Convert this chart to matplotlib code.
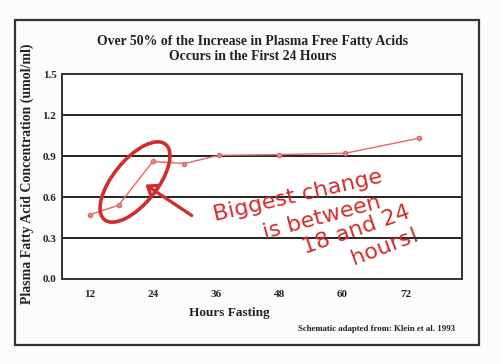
import matplotlib
matplotlib.use("Agg")
import matplotlib.pyplot as plt
from matplotlib.patches import Ellipse, Rectangle, FancyArrowPatch
from matplotlib.transforms import IdentityTransform

hours = [12, 17.5, 24, 30, 36.5, 48, 60.5, 74.5]
ffa = [0.47, 0.54, 0.86, 0.845, 0.905, 0.91, 0.92, 1.03]
xticks = [12, 24, 36, 48, 60, 72]
yticks = [0.0, 0.3, 0.6, 0.9, 1.2, 1.5]
ytick_labels = ["0.0", "0.3", "0.6", "0.9", "1.2", "1.5"]
title = "Over 50% of the Increase in Plasma Free Fatty Acids\nOccurs in the First 24 Hours"
xlabel = "Hours Fasting"
ylabel = "Plasma Fatty Acid Concentration (umol/ml)"
source = "Schematic adapted from: Klein et al. 1993"
note_lines = ["Biggest change", "is between", "18 and 24", "hours!"]

W, H = 500, 364
fig = plt.figure(figsize=(W / 100, H / 100), dpi=100)
fig.patch.set_facecolor("#fcfcfc")
serif = ["Liberation Serif", "DejaVu Serif"]

def px(x, y):
    return x, H - y

# outer frame
fig.patches.append(Rectangle((15 / W, 1 - 345 / H), (479 - 15) / W, (345 - 20) / H,
                             transform=fig.transFigure, fill=False, lw=1.6,
                             edgecolor="#333333"))

ax = fig.add_axes([62 / W, 1 - 279 / H, 400 / W, (279 - 74) / H])
ax.set_facecolor("white")
ax.set_xlim(6.75, 82.7)
ax.set_ylim(0, 1.5)
ax.set_xticks(xticks)
ax.set_xticklabels([str(v) for v in xticks], fontfamily=serif, fontweight="bold",
                   fontsize=8, color="#222222")
ax.set_yticks(yticks)
ax.set_yticklabels(ytick_labels, fontfamily=serif, fontweight="bold",
                   fontsize=8, color="#222222")
ax.tick_params(length=0, pad=8, axis="x")
ax.tick_params(length=0, pad=4, axis="y")
for v in yticks[1:-1]:
    ax.axhline(v, color="#222222", lw=1.4, zorder=1)
for s in ax.spines.values():
    s.set_color("#333333")
    s.set_linewidth(1.4)

ax.plot(hours, ffa, color="#e06868", lw=1.0, marker="o", ms=3,
        mfc="#e89090", mec="#e06868", zorder=3)

fig.text(253 / W, 1 - 48.5 / H, title, ha="center", va="center", fontfamily=serif,
         fontweight="bold", fontsize=9.9, color="#222222", linespacing=1.2)
fig.text(229 / W, 1 - 313 / H, xlabel, ha="center", va="center", fontfamily=serif,
         fontweight="bold", fontsize=9.5, color="#222222")
fig.text(27 / W, 1 - 174 / H, ylabel, ha="center", va="center", rotation=90,
         fontfamily=serif, fontweight="bold", fontsize=10, color="#222222")
fig.text(455 / W, 1 - 329 / H, source, ha="right", va="center", fontfamily=serif,
         fontweight="bold", fontsize=6.3, color="#222222")

red = "#d42c2c"
# hand-drawn ellipse and arrow
ell = Ellipse(px(135, 182), 97, 44, angle=51, transform=IdentityTransform(),
              fill=False, edgecolor=red, lw=2.6)
fig.patches.append(ell)
arr = FancyArrowPatch(px(194, 217), px(143, 183), transform=IdentityTransform(),
                      arrowstyle="->,head_length=4,head_width=3", color=red, lw=2.4,
                      mutation_scale=1.5)
fig.patches.append(arr)

pos = [(298, 196, 13), (322, 218, 15), (356, 230, 19), (385, 247, 21)]
for t, (x, y, r) in zip(note_lines, pos):
    fig.text(x / W, 1 - y / H, t, ha="center", va="center", rotation=r,
             fontsize=16, color=red, fontfamily="DejaVu Sans",
             rotation_mode="anchor")

fig.savefig("out.png", dpi=100, facecolor=fig.get_facecolor())
